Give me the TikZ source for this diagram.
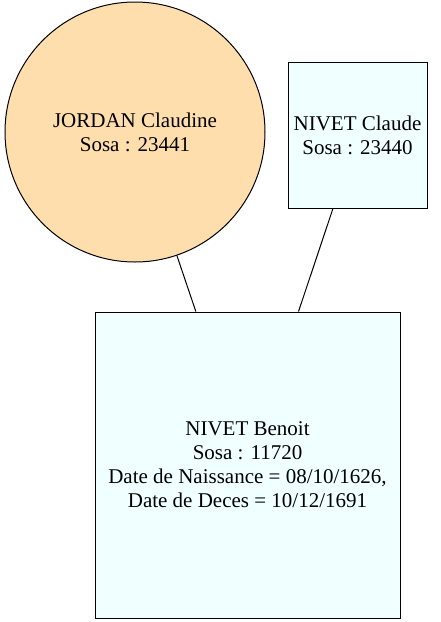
\documentclass[tikz,border=0pt]{standalone}
\usepackage{fontspec}
\setmainfont{Liberation Serif}
\newfontfamily\timesfont{Liberation Serif}
\usepackage{tikz}

\definecolor{navajo}{HTML}{FFDEAD}
\definecolor{azurefill}{HTML}{F0FFFF}

\begin{document}
\begin{tikzpicture}[x=1pt, y=1pt, line width=1pt]
  \tikzstyle{person} = [draw=black, align=center, font=\timesfont\fontsize{21}{24}\selectfont]
  \tikzstyle{woman} = [person, circle, fill=navajo, minimum size=260pt, inner sep=0pt]
  \tikzstyle{man} = [person, rectangle, fill=azurefill]
  \tikzstyle{straight} = [-, black]

  \useasboundingbox (0,0) rectangle (440,-622);

  \node[woman] (jordan) at (135,-132) {JORDAN Claudine\\ Sosa : 23441};
  \node[man, minimum width=139pt, minimum height=146pt] (claude) at (357.5,-135)
    {NIVET Claude\\ Sosa : 23440};
  \node[man, minimum width=305pt, minimum height=306pt] (benoit) at (247.5,-465)
    {NIVET Benoit\\ Sosa : 11720\\ Date de Naissance = 08/10/1626,\\ Date de Deces = 10/12/1691};

  \draw[straight] (jordan) -- (benoit);
  \draw[straight] (claude) -- (benoit);
\end{tikzpicture}
\end{document}
